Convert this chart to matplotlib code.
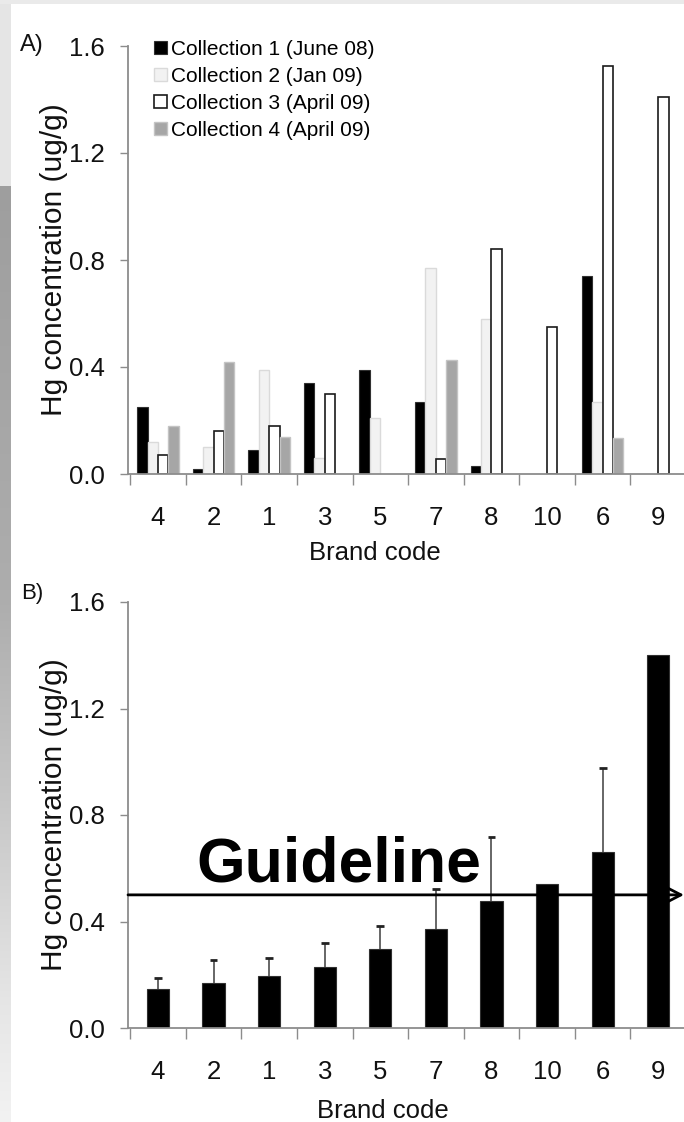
import matplotlib
matplotlib.use('Agg')
import matplotlib.pyplot as plt
import numpy as np

plt.rcParams['font.family'] = ['Liberation Sans', 'DejaVu Sans']

# ---------------- data ----------------
brands = ['4', '2', '1', '3', '5', '7', '8', '10', '6', '9']
coll1 = [0.25, 0.02, 0.09, 0.34, 0.39, 0.27, 0.03, np.nan, 0.74, np.nan]
coll2 = [0.12, 0.10, 0.39, 0.06, 0.21, 0.77, 0.58, np.nan, 0.27, np.nan]
coll3 = [0.07, 0.16, 0.18, 0.30, np.nan, 0.055, 0.84, 0.55, 1.525, 1.41]
coll4 = [0.18, 0.42, 0.14, np.nan, np.nan, 0.425, np.nan, np.nan, 0.135, np.nan]
series_labels = ['Collection 1 (June 08)', 'Collection 2 (Jan 09)',
                 'Collection 3 (April 09)', 'Collection 4 (April 09)']

mean_b = [0.146, 0.169, 0.195, 0.229, 0.297, 0.372, 0.478, 0.542, 0.66, 1.402]
upper_b = [0.188, 0.255, 0.264, 0.319, 0.384, 0.523, 0.717, np.nan, 0.978, np.nan]
guideline = 0.5
yticks = [0.0, 0.4, 0.8, 1.2, 1.6]

# ---------------- figure ----------------
W, H = 684, 1122
fig = plt.figure(figsize=(W / 100, H / 100), dpi=100)

# slide background decoration
bg = fig.add_axes([0, 0, 1, 1], zorder=-10)
img = np.ones((H, W, 3))
ys = np.arange(H)
shade = np.interp(ys, [0, 185, 186, 600, 800, 1000, 1122],
                  [0.90, 0.90, 0.62, 0.68, 0.78, 0.90, 0.95])
img[:, :11, :] = shade[:, None, None]
img[:4, :, :] = 0.92
bg.imshow(img, extent=(0, W, H, 0), aspect='auto')
bg.set_xlim(0, W)
bg.set_ylim(H, 0)
bg.axis('off')


def px_axes(l, t, r, b):
    return fig.add_axes([l / W, 1 - b / H, (r - l) / W, (b - t) / H])


axA = px_axes(128, 46, 686, 474)
axB = px_axes(128, 602, 686, 1028)

x = np.arange(len(brands))
spine_c = '#8c8c8c'


def style(ax):
    ax.set_xlim(-0.54, 9.5)
    ax.set_ylim(0, 1.6)
    for s in ['top', 'right']:
        ax.spines[s].set_visible(False)
    for s in ['left', 'bottom']:
        ax.spines[s].set_color(spine_c)
        ax.spines[s].set_linewidth(1.3)
    ax.set_yticks(yticks)
    ax.set_yticklabels([f'{v:.1f}' for v in yticks])
    ax.tick_params(axis='y', direction='out', length=6, width=1, color=spine_c,
                   pad=11, labelsize=18.5, labelcolor='#111111')
    ax.set_xticks(np.arange(len(brands) + 1) - 0.5)
    ax.set_xticklabels([])
    ax.tick_params(axis='x', which='major', direction='out', length=8, width=1,
                   color=spine_c)
    ax.set_xticks(x, minor=True)
    ax.set_xticklabels(brands, minor=True)
    ax.tick_params(axis='x', which='minor', length=0, pad=23, labelsize=18.5,
                   labelcolor='#111111')
    ax.set_ylabel('Hg concentration (ug/g)', fontsize=21.5, color='#111111')
    ax.yaxis.set_label_coords(-0.108, 0.5)
    ax.set_xlabel('Brand code', fontsize=18.5, color='#111111')


style(axA)
style(axB)
axA.xaxis.set_label_coords(0.4418, -0.156)
axB.xaxis.set_label_coords(0.4566, -0.167)

# ---------------- panel A ----------------
w = 0.1875
offsets = [-1.5 * w, -0.5 * w, 0.5 * w, 1.5 * w]
styles = [
    dict(color='black', edgecolor='#303030', linewidth=0.8),
    dict(color='#f2f2f2', edgecolor='#dadada', linewidth=1.0),
    dict(color='white', edgecolor='#1a1a1a', linewidth=1.2),
    dict(color='#a6a6a6', edgecolor='#c4c4c4', linewidth=1.0),
]
for vals, off, st, lab in zip([coll1, coll2, coll3, coll4], offsets, styles, series_labels):
    axA.bar(x + off, vals, width=w, label=lab, **st)

leg = axA.legend(loc='upper left', bbox_to_anchor=(0.047, 1.014), frameon=False,
                 fontsize=15, handlelength=0.6, handleheight=0.62,
                 handletextpad=0.2, labelspacing=0.38, borderpad=0,
                 borderaxespad=0)

fig.text(20 / W, 1 - 34 / H, 'A)', fontsize=17, ha='left', va='top', color='#111111')
fig.text(21 / W, 1 - 583 / H, 'B)', fontsize=16, ha='left', va='top', color='#111111')

# ---------------- panel B ----------------
axB.bar(x, mean_b, width=0.4, color='black', edgecolor='#303030', linewidth=0.8)
mean_arr = np.array(mean_b)
up_arr = np.array(upper_b)
has = np.isfinite(up_arr)
axB.vlines(x[has], mean_arr[has], up_arr[has], color='#5a5a5a', linewidth=1.3, zorder=3)
axB.hlines(up_arr[has], x[has] - 0.07, x[has] + 0.07, color='#222222', linewidth=2, zorder=3)

axB.annotate('', xy=(9.463, guideline), xytext=(-0.54, guideline),
             arrowprops=dict(arrowstyle='->,head_length=0.58,head_width=0.3',
                             lw=2, color='black', shrinkA=0, shrinkB=0,
                             mutation_scale=20),
             annotation_clip=False, zorder=5)
axB.text(0.696, 0.549, 'Guideline', fontsize=45, fontweight='bold',
         ha='left', va='baseline', color='black', zorder=6)

fig.savefig('out.png', dpi=100)
